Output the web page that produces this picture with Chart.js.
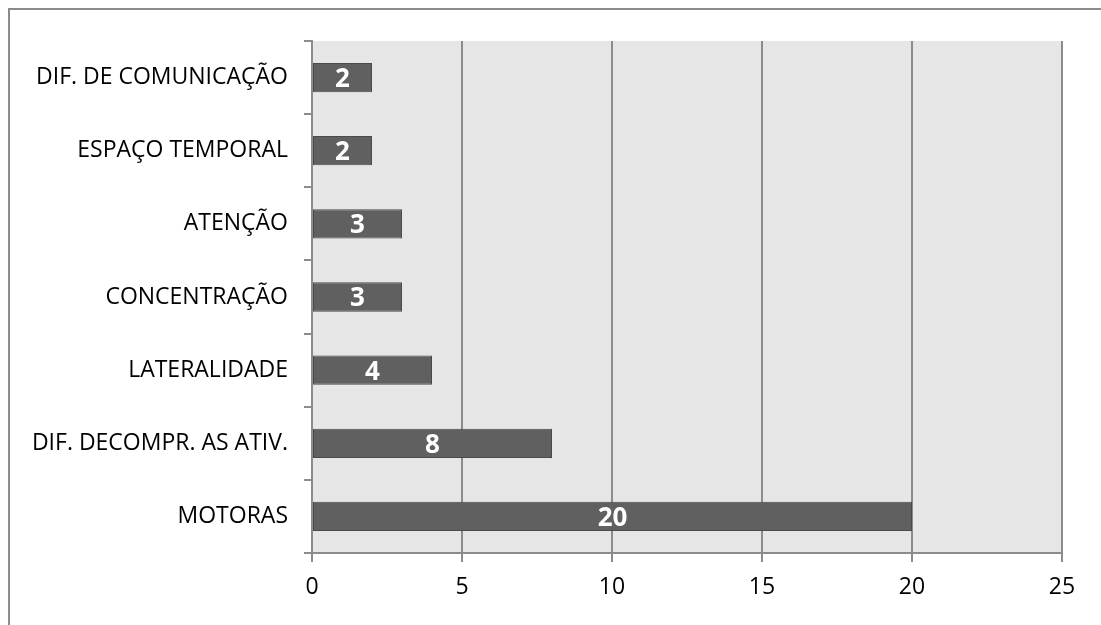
<!DOCTYPE html>
<html lang="pt">
    <head>
        <meta charset="utf-8" />
        <script src="https://cdn.jsdelivr.net/npm/chart.js@4.4.1/dist/chart.umd.min.js"></script>
        <title>Dificuldades</title>
        <style>
            html, body { margin: 0; padding: 0; background: #fff; overflow: hidden; }
            #caixa { width: 1101px; height: 625px; }
        </style>
    </head>
    <body>
        <div id="caixa"><canvas id="grafico" width="1101" height="625"></canvas></div>
        <script>
            const categorias = ["DIF. DE COMUNICAÇÃO", "ESPAÇO TEMPORAL", "ATENÇÃO", "CONCENTRAÇÃO", "LATERALIDADE", "DIF. DECOMPR. AS ATIV.", "MOTORAS"];
            const valores = [2, 2, 3, 3, 4, 8, 20];
            const eixoX = [0, 5, 10, 15, 20, 25];

            const fonte = "'Open Sans', 'Noto Sans', sans-serif";

            // fundo cinza da área do gráfico e moldura externa
            const fundo = {
                id: "fundo",
                beforeDraw(chart) {
                    const { ctx, chartArea: a } = chart;
                    ctx.save();
                    ctx.fillStyle = "#e6e6e6";
                    ctx.fillRect(a.left, a.top, a.right - a.left, a.bottom - a.top);
                    ctx.strokeStyle = "#8c8c8c";
                    ctx.lineWidth = 2;
                    ctx.strokeRect(9, 9, 1200, 800);
                    ctx.restore();
                }
            };

            // valores brancos no meio de cada barra
            const rotulos = {
                id: "rotulos",
                afterDatasetsDraw(chart) {
                    const { ctx } = chart;
                    const meta = chart.getDatasetMeta(0);
                    ctx.save();
                    ctx.fillStyle = "#ffffff";
                    ctx.font = "bold 26px " + fonte;
                    ctx.textAlign = "center";
                    ctx.textBaseline = "middle";
                    meta.data.forEach((barra, i) => {
                        ctx.fillText(valores[i], (barra.x + barra.base) / 2, barra.y + 2);
                    });
                    ctx.restore();
                }
            };

            new Chart(document.getElementById("grafico").getContext("2d"), {
                type: "bar",
                data: {
                    labels: categorias,
                    datasets: [{
                        data: valores,
                        backgroundColor: "#606060",
                        borderColor: "#4a4a4a",
                        borderWidth: 1,
                        borderSkipped: false,
                        categoryPercentage: 1,
                        barPercentage: 0.4
                    }]
                },
                options: {
                    indexAxis: "y",
                    responsive: false,
                    animation: false,
                    layout: { padding: { top: 41, right: 39, left: 0, bottom: 0 } },
                    scales: {
                        x: {
                            min: 0,
                            max: 25,
                            afterBuildTicks: (s) => { s.ticks = eixoX.map((v) => ({ value: v })); },
                            afterFit: (s) => { s.height = 72; },
                            grid: { color: "#8c8c8c", lineWidth: 2, tickLength: 9, drawTicks: true },
                            border: { color: "#8c8c8c", width: 2 },
                            ticks: { color: "#000", padding: 12, font: { family: fonte, size: 23 } }
                        },
                        y: {
                            afterFit: (s) => { s.width = 312; },
                            grid: { offset: true, drawOnChartArea: false, color: "#8c8c8c", lineWidth: 2, tickLength: 8 },
                            border: { color: "#8c8c8c", width: 2 },
                            ticks: { color: "#000", padding: 16, font: { family: fonte, size: 23 } }
                        }
                    },
                    plugins: {
                        legend: { display: false },
                        tooltip: { enabled: false }
                    }
                },
                plugins: [fundo, rotulos]
            });
        </script>
    </body>
</html>
